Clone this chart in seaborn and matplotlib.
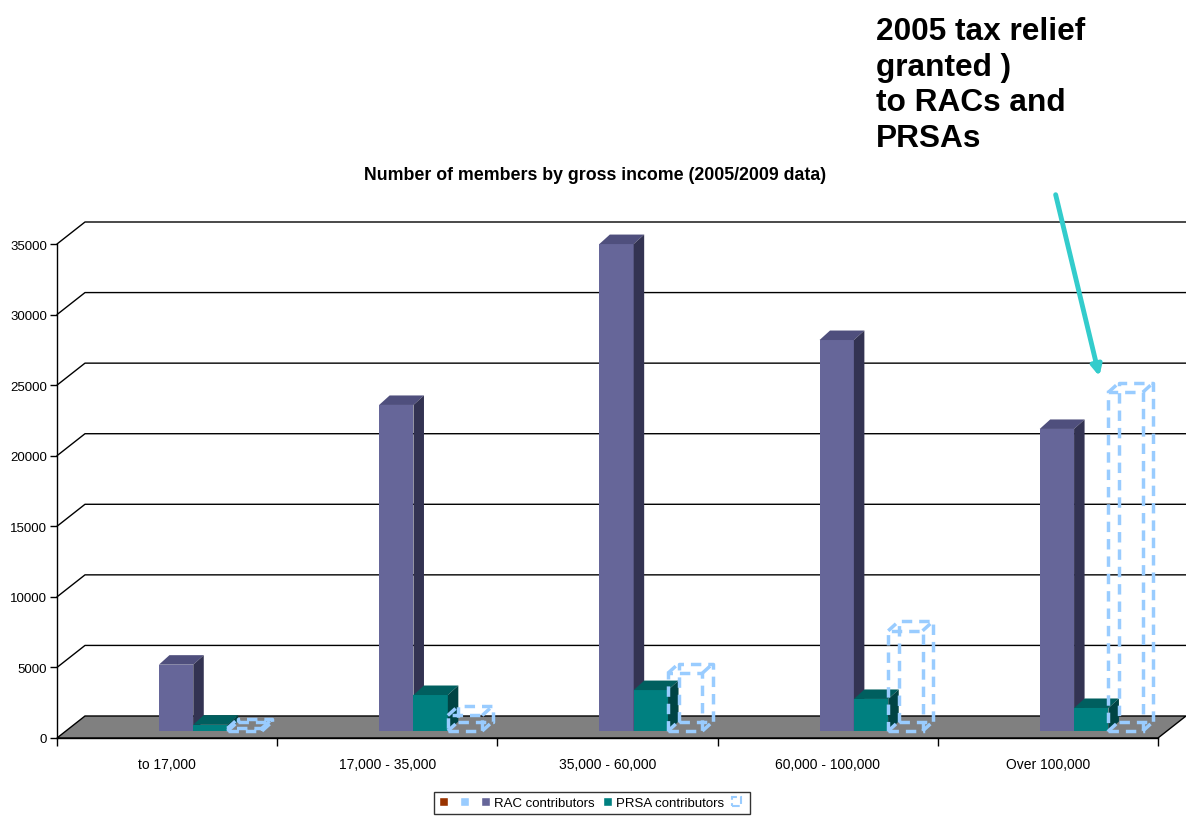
import numpy as np
import pandas as pd
import matplotlib
matplotlib.use('Agg')
import matplotlib.pyplot as plt
import matplotlib.transforms as mtransforms
from matplotlib.patches import Polygon, Patch
import seaborn as sns

# Datos
bands = ['to 17,000', '17,000 - 35,000', '35,000 - 60,000', '60,000 - 100,000', 'Over 100,000']
blank_a = [0, 0, 0, 0, 0]
blank_b = [0, 0, 0, 0, 0]
rac = [4700, 23100, 34500, 27700, 21400]
prsa = [450, 2550, 2900, 2270, 1630]
outline_2009 = [200, 1100, 4100, 7100, 24000]

series_names = ['s1', 's2', 'RAC contributors', 'PRSA contributors', 's5']
series_values = [blank_a, blank_b, rac, prsa, outline_2009]
legend_labels = ['', '', 'RAC contributors', 'PRSA contributors', '']

rows = []
for name, vals in zip(series_names, series_values):
    for b, v in zip(bands, vals):
        rows.append({'band': b, 'series': name, 'value': v})
df = pd.DataFrame(rows)

sns.set_style('white')
plt.rcParams['font.family'] = ['Liberation Sans', 'DejaVu Sans']
plt.rcParams['text.color'] = 'black'
plt.rcParams['xtick.color'] = 'black'
plt.rcParams['ytick.color'] = 'black'
plt.rcParams['xtick.labelcolor'] = 'black'
plt.rcParams['ytick.labelcolor'] = 'black'

W, H = 1186, 820
fig = plt.figure(figsize=(W / 100, H / 100), dpi=100)
ax = fig.add_axes([57 / W, 81 / H, 1101 / W, 494 / H])

palette = {'s1': '#993300', 's2': '#99CCFF', 'RAC contributors': '#666699',
           'PRSA contributors': '#008080', 's5': '#99CCFF'}
sns.barplot(data=df, x='band', y='value', hue='series', hue_order=series_names,
            palette=palette, saturation=1, width=0.78, ax=ax, legend=False,
            errorbar=None, linewidth=0)
ax.set_xlim(-0.5, 4.5)
ax.set_ylim(0, 35000)


def px2data(dx, dy):
    inv = ax.transData.inverted()
    p0 = ax.transData.transform((0, 0))
    a = inv.transform(p0 + np.array([dx, dy]))
    b = inv.transform(p0)
    return a - b


# profundidad del piso y de las barras (pixeles)
fx, fy = px2data(28, 22)
bx, by = px2data(10.5, 9.5)
bar_tr = mtransforms.offset_copy(ax.transData, fig=fig, x=9, y=7, units='dots')

# pared del fondo: lineas de la cuadricula
for v in range(5000, 35001, 5000):
    ax.plot([-0.5, -0.5 + fx, 4.5 + fx], [v, v + fy, v + fy], color='black',
            lw=1, clip_on=False, zorder=0.5)

# piso gris
floor = Polygon([(-0.5, 0), (4.5, 0), (4.5 + fx, fy), (-0.5 + fx, fy)],
                closed=True, facecolor='#808080', edgecolor='black', lw=1,
                clip_on=False, zorder=1)
ax.add_patch(floor)

shades = {
    'RAC contributors': ('#666699', '#4f4f7d', '#333352'),
    'PRSA contributors': ('#008080', '#005f5f', '#004444'),
}

for i, (name, cont) in enumerate(zip(series_names, ax.containers)):
    z = 3 + i
    for bar in cont.patches:
        x0 = bar.get_x()
        x1 = x0 + bar.get_width()
        h = bar.get_height()
        bar.set_transform(bar_tr)
        bar.set_clip_on(False)
        bar.set_zorder(z)
        if name in shades:
            front, top, side = shades[name]
            bar.set_facecolor(front)
            ax.add_patch(Polygon([(x0, h), (x1, h), (x1 + bx, h + by), (x0 + bx, h + by)],
                                 closed=True, facecolor=top, lw=0, transform=bar_tr,
                                 clip_on=False, zorder=z))
            ax.add_patch(Polygon([(x1, 0), (x1, h), (x1 + bx, h + by), (x1 + bx, by)],
                                 closed=True, facecolor=side, lw=0, transform=bar_tr,
                                 clip_on=False, zorder=z))
        elif name == 's5':
            bar.set_facecolor('none')
            bar.set_edgecolor('#99CCFF')
            bar.set_linewidth(2.5)
            bar.set_linestyle((0, (3, 2)))
            ls = dict(color='#99CCFF', lw=2.5, ls=(0, (3, 2)), transform=bar_tr,
                      clip_on=False, zorder=z)
            # cara trasera y aristas
            ax.plot([x0 + bx, x1 + bx, x1 + bx, x0 + bx, x0 + bx],
                    [by, by, h + by, h + by, by], **ls)
            for xc in (x0, x1):
                ax.plot([xc, xc + bx], [0, by], **ls)
                ax.plot([xc, xc + bx], [h, h + by], **ls)
        else:
            bar.set_visible(False)

# ejes
sns.despine(ax=ax, top=True, right=True)
ax.spines['left'].set_linewidth(1)
ax.spines['bottom'].set_linewidth(1)
ax.spines['left'].set_color('black')
ax.spines['bottom'].set_color('black')
ax.set_yticks(range(0, 35001, 5000))
ax.set_yticklabels([str(v) for v in range(0, 35001, 5000)], fontsize=9.5)
ax.tick_params(axis='y', direction='out', length=5, width=1, pad=2, left=True)
ax.set_xticks(range(len(bands)))
ax.set_xticklabels(bands, fontsize=10)
ax.set_xticks(np.arange(-0.5, 5, 1), minor=True)
ax.tick_params(axis='x', which='major', length=0, pad=14)
ax.tick_params(axis='x', which='minor', direction='out', length=6, width=1, bottom=True)
ax.set_xlabel('')
ax.set_ylabel('')
ax.grid(False)
ax.patch.set_alpha(0)

fig.text(595 / W, 1 - 176 / H, 'Number of members by gross income (2005/2009 data)',
         ha='center', va='center', fontsize=12.8, fontweight='bold')

fig.text(876 / W, 1 - 17 / H, '2005 tax relief\ngranted )\nto RACs and\nPRSAs',
         ha='left', va='top', fontsize=22.8, fontweight='bold', linespacing=1.24)

fig.patches.append(matplotlib.patches.FancyArrowPatch(
    (1055, H - 193), (1100, H - 380), transform=None, arrowstyle='-|>',
    mutation_scale=15, lw=3.5, color='#33CCCC'))

handles = [Patch(facecolor='#993300'), Patch(facecolor='#99CCFF'),
           Patch(facecolor='#666699'), Patch(facecolor='#008080'),
           Patch(facecolor='none', edgecolor='#99CCFF', linestyle='--', lw=1.5)]
leg = fig.legend(handles, legend_labels, loc='center', ncol=5,
                 bbox_to_anchor=(592 / W, 1 - 804 / H), fontsize=9.5,
                 frameon=True, fancybox=False, handlelength=0.7, handleheight=0.7,
                 handletextpad=0.3, columnspacing=0.6, borderpad=0.35)
leg.get_frame().set_edgecolor('black')
leg.get_frame().set_linewidth(1)

fig.savefig('out.png', dpi=100)
